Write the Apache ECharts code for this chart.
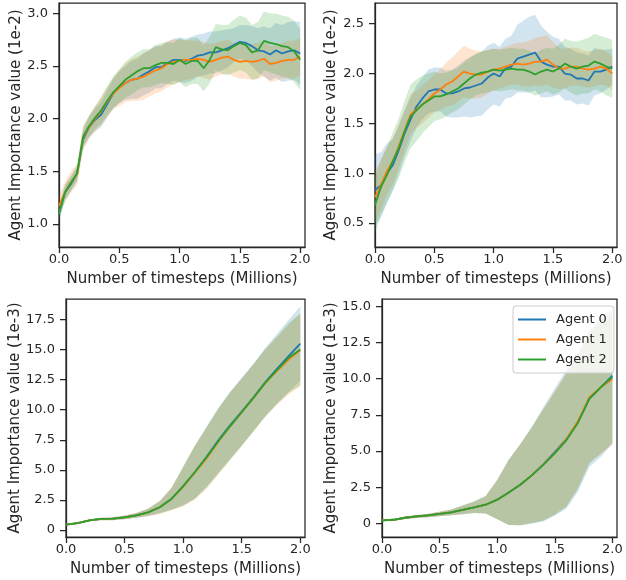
<!DOCTYPE html>
<html>
<head>
<meta charset="utf-8">
<script src="https://cdn.jsdelivr.net/npm/echarts@6/dist/echarts.min.js"></script>
<style>
  html, body { margin: 0; padding: 0; background: #fff; }
  #chart { width: 626px; height: 580px; }
</style>
</head>
<body>
<div id="chart"></div>
<script>
// agents and colours
const agents = ['Agent 0', 'Agent 1', 'Agent 2'];
const colors = ['#1f77b4', '#ff7f0e', '#2ca02c'];
const bandColors = ['rgba(31,119,180,0.2)', 'rgba(255,127,14,0.2)', 'rgba(44,160,44,0.2)'];

// timesteps (millions)
const xTop = [0, 0.05, 0.1, 0.15, 0.2, 0.25, 0.3, 0.35, 0.4, 0.45, 0.5, 0.55, 0.6, 0.65, 0.7, 0.75, 0.8, 0.85, 0.9, 0.95,
  1.0, 1.05, 1.1, 1.15, 1.2, 1.25, 1.3, 1.35, 1.4, 1.45, 1.5, 1.55, 1.6, 1.65, 1.7, 1.75, 1.8, 1.85, 1.9, 1.95, 2.0];
const xBottom = [0, 0.1, 0.2, 0.3, 0.4, 0.5, 0.6, 0.7, 0.8, 0.9, 1.0, 1.1, 1.2, 1.3, 1.4, 1.5, 1.6, 1.7, 1.8, 1.9, 2.0];

// tick labels
const xTicks = [0, 0.5, 1.0, 1.5, 2.0];
const yTicksTL = [1.0, 1.5, 2.0, 2.5, 3.0];
const yTicksTR = [0.5, 1.0, 1.5, 2.0, 2.5];
const yTicksBL = [0, 2.5, 5.0, 7.5, 10.0, 12.5, 15.0, 17.5];
const yTicksBR = [0, 2.5, 5.0, 7.5, 10.0, 12.5, 15.0];

// top left (1e-2): mean and band half-width
const tlMean0 = [1.10, 1.30, 1.38, 1.48, 1.80, 1.92, 1.99, 2.04, 2.14, 2.24, 2.30, 2.34, 2.37, 2.38, 2.42, 2.45, 2.49, 2.49, 2.53, 2.56,
  2.56, 2.55, 2.57, 2.60, 2.61, 2.63, 2.63, 2.65, 2.67, 2.70, 2.73, 2.72, 2.69, 2.65, 2.64, 2.61, 2.65, 2.62, 2.64, 2.65, 2.62];
const tlMean1 = [1.17, 1.30, 1.40, 1.47, 1.82, 1.92, 2.00, 2.07, 2.16, 2.24, 2.29, 2.34, 2.37, 2.38, 2.40, 2.43, 2.46, 2.48, 2.52, 2.54,
  2.55, 2.56, 2.56, 2.57, 2.56, 2.54, 2.56, 2.58, 2.59, 2.56, 2.54, 2.55, 2.54, 2.55, 2.57, 2.52, 2.53, 2.55, 2.56, 2.56, 2.59];
const tlMean2 = [1.10, 1.30, 1.39, 1.48, 1.83, 1.93, 2.01, 2.08, 2.17, 2.25, 2.31, 2.37, 2.41, 2.45, 2.48, 2.48, 2.51, 2.53, 2.53, 2.52,
  2.56, 2.52, 2.55, 2.55, 2.48, 2.56, 2.68, 2.66, 2.65, 2.69, 2.72, 2.70, 2.63, 2.65, 2.74, 2.72, 2.71, 2.69, 2.68, 2.64, 2.56];
const tlSpread0 = [0.07, 0.07, 0.07, 0.07, 0.09, 0.10, 0.11, 0.12, 0.13, 0.14, 0.15, 0.16, 0.18, 0.19, 0.20, 0.20, 0.20, 0.20, 0.20, 0.20,
  0.21, 0.21, 0.21, 0.20, 0.20, 0.20, 0.20, 0.19, 0.18, 0.16, 0.16, 0.17, 0.19, 0.21, 0.24, 0.25, 0.26, 0.27, 0.28, 0.28, 0.30];
const tlSpread1 = [0.10, 0.10, 0.10, 0.10, 0.11, 0.11, 0.12, 0.13, 0.14, 0.15, 0.17, 0.18, 0.20, 0.21, 0.22, 0.22, 0.22, 0.22, 0.22, 0.21,
  0.20, 0.19, 0.18, 0.17, 0.17, 0.17, 0.16, 0.16, 0.16, 0.16, 0.16, 0.17, 0.17, 0.17, 0.17, 0.17, 0.17, 0.17, 0.18, 0.18, 0.18];
const tlSpread2 = [0.07, 0.07, 0.07, 0.07, 0.09, 0.10, 0.11, 0.13, 0.14, 0.15, 0.16, 0.17, 0.18, 0.18, 0.18, 0.18, 0.19, 0.19, 0.20, 0.20,
  0.21, 0.22, 0.22, 0.22, 0.22, 0.22, 0.22, 0.23, 0.24, 0.25, 0.26, 0.26, 0.26, 0.27, 0.28, 0.28, 0.29, 0.29, 0.29, 0.29, 0.29];

// top right (1e-2)
const trMean0 = [0.83, 0.88, 1.00, 1.08, 1.23, 1.40, 1.54, 1.67, 1.75, 1.82, 1.84, 1.84, 1.80, 1.80, 1.82, 1.85, 1.86, 1.88, 1.90, 1.96,
  2.00, 1.97, 2.05, 2.07, 2.15, 2.17, 2.19, 2.21, 2.12, 2.09, 2.07, 2.07, 2.00, 1.99, 1.95, 1.95, 1.93, 2.02, 2.02, 2.04, 2.07];
const trMean1 = [0.76, 0.88, 1.02, 1.12, 1.27, 1.43, 1.59, 1.64, 1.69, 1.74, 1.80, 1.84, 1.89, 1.92, 1.97, 2.02, 2.00, 1.99, 1.99, 2.02,
  2.04, 2.05, 2.07, 2.09, 2.10, 2.09, 2.10, 2.12, 2.12, 2.14, 2.09, 2.05, 2.05, 2.07, 2.07, 2.05, 2.04, 2.05, 2.07, 2.05, 2.00];
const trMean2 = [0.68, 0.86, 0.98, 1.12, 1.25, 1.42, 1.57, 1.63, 1.69, 1.73, 1.77, 1.77, 1.79, 1.82, 1.85, 1.90, 1.95, 1.99, 2.01, 2.02,
  2.04, 2.03, 2.04, 2.05, 2.04, 2.04, 2.02, 1.99, 2.02, 2.04, 2.02, 2.05, 2.10, 2.07, 2.05, 2.07, 2.08, 2.12, 2.10, 2.07, 2.05];
const trSpread0 = [0.36, 0.33, 0.30, 0.26, 0.24, 0.23, 0.22, 0.21, 0.21, 0.22, 0.22, 0.22, 0.23, 0.24, 0.26, 0.28, 0.30, 0.31, 0.32, 0.32,
  0.31, 0.30, 0.30, 0.31, 0.34, 0.36, 0.38, 0.38, 0.36, 0.33, 0.30, 0.28, 0.27, 0.26, 0.26, 0.25, 0.25, 0.24, 0.22, 0.20, 0.18];
const trSpread1 = [0.26, 0.25, 0.24, 0.23, 0.22, 0.21, 0.20, 0.19, 0.19, 0.19, 0.19, 0.20, 0.22, 0.24, 0.25, 0.26, 0.25, 0.24, 0.23, 0.22,
  0.21, 0.20, 0.20, 0.20, 0.21, 0.22, 0.23, 0.24, 0.25, 0.25, 0.23, 0.21, 0.20, 0.19, 0.19, 0.18, 0.18, 0.18, 0.18, 0.17, 0.17];
const trSpread2 = [0.28, 0.28, 0.28, 0.29, 0.30, 0.31, 0.32, 0.31, 0.29, 0.27, 0.25, 0.23, 0.22, 0.21, 0.21, 0.21, 0.21, 0.21, 0.21, 0.21,
  0.21, 0.21, 0.21, 0.21, 0.21, 0.21, 0.21, 0.21, 0.22, 0.22, 0.23, 0.24, 0.25, 0.26, 0.27, 0.27, 0.28, 0.28, 0.28, 0.29, 0.29];

// bottom left (1e-3)
const blMean0 = [0.44, 0.58, 0.80, 0.92, 0.94, 1.05, 1.22, 1.47, 1.89, 2.58, 3.63, 4.80, 6.08, 7.45, 8.70, 9.85, 11.02, 12.28, 13.39, 14.45, 15.50];
const blMean1 = [0.44, 0.58, 0.80, 0.92, 0.94, 1.05, 1.22, 1.47, 1.89, 2.58, 3.60, 4.76, 5.95, 7.34, 8.60, 9.79, 10.98, 12.20, 13.20, 14.17, 14.95];
const blMean2 = [0.44, 0.58, 0.80, 0.92, 0.94, 1.05, 1.22, 1.47, 1.89, 2.58, 3.65, 4.82, 6.05, 7.38, 8.62, 9.79, 10.98, 12.23, 13.28, 14.31, 15.00];
const blSpread0 = [0.05, 0.06, 0.08, 0.10, 0.12, 0.15, 0.20, 0.30, 0.50, 0.90, 1.60, 2.20, 2.50, 2.70, 2.80, 2.80, 2.80, 2.85, 2.90, 3.00, 3.10];
const blSpread1 = [0.05, 0.06, 0.08, 0.10, 0.12, 0.15, 0.20, 0.32, 0.55, 0.95, 1.65, 2.25, 2.55, 2.75, 2.80, 2.80, 2.80, 2.80, 2.80, 2.90, 3.00];
const blSpread2 = [0.05, 0.06, 0.08, 0.10, 0.12, 0.15, 0.20, 0.30, 0.50, 0.90, 1.60, 2.20, 2.50, 2.70, 2.80, 2.80, 2.80, 2.80, 2.80, 2.90, 3.00];

// bottom right (1e-3)
const brMean0 = [0.21, 0.25, 0.39, 0.48, 0.55, 0.65, 0.76, 0.94, 1.11, 1.29, 1.64, 2.14, 2.67, 3.32, 4.08, 4.92, 5.82, 6.98, 8.60, 9.40, 10.20];
const brMean1 = [0.21, 0.25, 0.39, 0.48, 0.55, 0.65, 0.76, 0.94, 1.11, 1.29, 1.64, 2.14, 2.67, 3.32, 4.06, 4.86, 5.80, 7.05, 8.72, 9.40, 9.98];
const brMean2 = [0.21, 0.25, 0.39, 0.48, 0.55, 0.65, 0.76, 0.94, 1.11, 1.29, 1.64, 2.14, 2.67, 3.32, 4.04, 4.84, 5.74, 6.94, 8.62, 9.42, 10.10];
const brSpread0 = [0.05, 0.06, 0.08, 0.10, 0.12, 0.15, 0.20, 0.30, 0.40, 0.60, 1.35, 2.25, 2.80, 3.35, 3.95, 4.40, 4.80, 4.80, 4.70, 4.80, 4.70];
const brSpread1 = [0.05, 0.06, 0.08, 0.10, 0.12, 0.15, 0.20, 0.30, 0.40, 0.60, 1.35, 2.25, 2.80, 3.30, 3.85, 4.25, 4.60, 4.60, 4.50, 4.60, 4.55];
const brSpread2 = [0.05, 0.06, 0.08, 0.10, 0.12, 0.15, 0.20, 0.30, 0.40, 0.60, 1.35, 2.25, 2.80, 3.30, 3.85, 4.25, 4.60, 4.60, 4.50, 4.60, 4.55];

const ink = '#262626';
const font = 'DejaVu Sans';

const panels = [
  { grid: { left: 59, top: 3, width: 246, height: 244 }, x: xTop, ymin: 0.78, ymax: 3.1, yTicks: yTicksTL,
    yName: 'Agent Importance value (1e-2)', nameGap: 35,
    means: [tlMean0, tlMean1, tlMean2], spreads: [tlSpread0, tlSpread1, tlSpread2] },
  { grid: { left: 375, top: 3, width: 242, height: 244 }, x: xTop, ymin: 0.259, ymax: 2.708, yTicks: yTicksTR,
    yName: 'Agent Importance value (1e-2)', nameGap: 36,
    means: [trMean0, trMean1, trMean2], spreads: [trSpread0, trSpread1, trSpread2] },
  { grid: { left: 66, top: 299, width: 239, height: 238 }, x: xBottom, ymin: -0.58, ymax: 19.2, yTicks: yTicksBL,
    yName: 'Agent Importance value (1e-3)', nameGap: 43,
    means: [blMean0, blMean1, blMean2], spreads: [blSpread0, blSpread1, blSpread2] },
  { grid: { left: 382, top: 299, width: 235, height: 238 }, x: xBottom, ymin: -0.94, ymax: 15.5, yTicks: yTicksBR,
    yName: 'Agent Importance value (1e-3)', nameGap: 43,
    means: [brMean0, brMean1, brMean2], spreads: [brSpread0, brSpread1, brSpread2] }
];

const grids = [], xAxes = [], yAxes = [], series = [];

// one polygon per band, drawn when the first item is rendered
function bandRenderer(rows, fill) {
  return function (params, api) {
    if (params.dataIndex !== 0) return null;
    const upper = rows.map(function (r) { return api.coord([r[0], r[2]]); });
    const lower = rows.map(function (r) { return api.coord([r[0], r[1]]); }).reverse();
    return {
      type: 'polygon',
      shape: { points: upper.concat(lower) },
      style: { fill: fill, stroke: null }
    };
  };
}

panels.forEach(function (p, gi) {
  grids.push(Object.assign({
    show: true, borderColor: ink, borderWidth: 1.25, backgroundColor: 'transparent',
    containLabel: false, outerBoundsMode: 'none'
  }, p.grid));

  xAxes.push({
    type: 'value', gridIndex: gi, min: 0, max: 2.04,
    name: 'Number of timesteps (Millions)', nameLocation: 'middle', nameGap: 25,
    nameTextStyle: { fontFamily: font, fontSize: 15, color: ink },
    axisLine: { show: true, onZero: false, lineStyle: { color: ink, width: 1.25 } },
    axisTick: { show: true, inside: false, length: 6, customValues: xTicks, lineStyle: { color: ink, width: 1.25 } },
    axisLabel: { show: true, margin: 6, fontFamily: font, fontSize: 13, color: ink, customValues: xTicks,
      formatter: function (v) { return v.toFixed(1); } },
    splitLine: { show: false }
  });

  const bottomRow = gi >= 2;
  yAxes.push({
    type: 'value', gridIndex: gi, min: p.ymin, max: p.ymax,
    name: p.yName, nameLocation: 'middle', nameGap: p.nameGap,
    nameTextStyle: { fontFamily: font, fontSize: 15, color: ink },
    axisLine: { show: true, onZero: false, lineStyle: { color: ink, width: 1.25 } },
    axisTick: { show: true, inside: false, length: 6, customValues: p.yTicks, lineStyle: { color: ink, width: 1.25 } },
    axisLabel: { show: true, margin: 11, fontFamily: font, fontSize: 13, color: ink, customValues: p.yTicks,
      formatter: function (v) { return (bottomRow && v === 0) ? '0' : v.toFixed(1); } },
    splitLine: { show: false }
  });

  // shaded bands (mean +/- spread)
  for (let a = 0; a < 3; a++) {
    const m = p.means[a], s = p.spreads[a];
    const rows = p.x.map(function (x, i) { return [x, m[i] - s[i], m[i] + s[i]]; });
    series.push({
      name: 'band', type: 'custom', xAxisIndex: gi, yAxisIndex: gi,
      silent: true, clip: true, z: 1,
      encode: { x: 0, y: [1, 2] },
      renderItem: bandRenderer(rows, bandColors[a]),
      data: rows
    });
  }
  // mean lines
  for (let a = 0; a < 3; a++) {
    const m = p.means[a];
    series.push({
      name: agents[a], type: 'line', xAxisIndex: gi, yAxisIndex: gi,
      symbol: 'none', showSymbol: false, color: colors[a], z: 3,
      lineStyle: { color: colors[a], width: 1.8 },
      data: p.x.map(function (x, i) { return [x, m[i]]; })
    });
  }
});

const chart = echarts.init(document.getElementById('chart'), null, { renderer: 'canvas' });
chart.setOption({
  animation: false,
  backgroundColor: '#ffffff',
  grid: grids,
  xAxis: xAxes,
  yAxis: yAxes,
  legend: {
    data: agents, orient: 'vertical', left: 513, top: 306,
    icon: 'rect', itemWidth: 28, itemHeight: 2, itemGap: 5,
    padding: [6, 7, 6, 5],
    backgroundColor: 'rgba(255,255,255,0.8)', borderColor: '#cccccc', borderWidth: 1, borderRadius: 3,
    textStyle: { fontFamily: font, fontSize: 13, color: ink, lineHeight: 15, padding: [0, 0, 0, 5] }
  },
  series: series
});
</script>
</body>
</html>
